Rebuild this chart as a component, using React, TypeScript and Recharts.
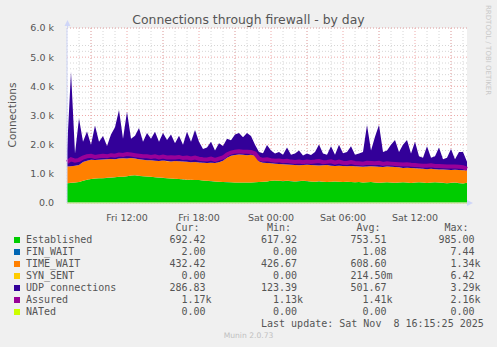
import { ComposedChart, Area, Line, XAxis, YAxis, CartesianGrid } from 'recharts'

// one sample every 20 minutes, starting Fri 07:00
const stepMinutes = 20

const established = [
    680, 690, 700, 720,
    760, 800, 820, 840, 850, 850,
    860, 870, 880, 900, 900,
    920, 940, 950, 930, 920, 910,
    900, 880, 870, 860, 850, 840, 830,
    820, 810, 800, 800, 790, 790,
    770, 760, 750, 740, 730, 720, 715, 710, 705, 700, 700, 700, 705, 710, 720, 730, 740,
    760, 770, 760, 750, 760, 750, 740, 750, 760, 750, 740, 730, 740, 730, 720, 730, 740, 730,
    720, 730, 720, 710, 720, 700, 710, 720, 700, 690, 700, 710, 700, 690, 700, 710, 700, 690,
    700, 710, 700, 690, 700, 710, 700, 690, 680, 690, 700, 680, 670, 692,
]
const finWait = [
    1, 2, 1, 0, 2, 1, 1, 3, 1, 0, 2, 1, 1, 2, 1,
    0, 1, 2, 1, 1, 0, 2, 1, 1, 3, 1, 0, 1, 2, 1, 1, 0, 2, 1,
    1, 1, 2, 0, 1, 1, 2, 1, 0, 1, 2, 1, 1, 0, 1, 2, 1,
    1, 0, 1, 2, 1, 1, 0, 1, 7, 1, 0, 1, 2, 1, 1, 0, 1, 1,
    2, 1, 0, 1, 1, 2, 1, 0, 1, 1, 2, 1, 0, 1, 2, 1, 1, 0,
    1, 2, 1, 0, 1, 1, 2, 1, 0, 1, 1, 2, 1, 2,
]
const timeWait = [
    570, 570, 580, 580,
    640, 650, 660, 630, 630, 640,
    640, 640, 620, 620, 630,
    610, 600, 570, 570, 560, 560,
    560, 570, 570, 590, 580, 580, 610,
    610, 610, 610, 600, 610, 600,
    610, 610, 630, 630, 670, 730, 835, 910, 945, 960, 950, 940, 945, 910, 700, 650, 630,
    600, 580, 580, 580, 560, 560, 560, 540, 540, 560, 560, 560, 540, 560, 580, 550, 530, 550,
    550, 530, 550, 550, 530, 540, 540, 540, 550, 550, 530, 540, 540, 540, 520, 490, 510, 510,
    490, 470, 470, 470, 470, 450, 450, 460, 460, 440, 440, 450, 450, 432,
]
const synSent = [
    0, 0, 0, 0, 0, 0, 0, 0, 0, 0, 0, 0, 0, 0, 0,
    0, 0, 0, 0, 0, 0, 0, 0, 0, 0, 6, 0, 0, 0, 0, 0, 0, 0, 0,
    0, 0, 0, 0, 0, 0, 0, 0, 0, 0, 0, 0, 0, 0, 0, 0, 0,
    0, 0, 0, 0, 0, 0, 0, 0, 0, 0, 0, 0, 0, 0, 0, 0, 0, 0,
    0, 0, 0, 0, 0, 0, 0, 0, 0, 0, 0, 0, 0, 0, 0, 0, 0, 0,
    0, 0, 0, 0, 0, 0, 0, 0, 0, 0, 0, 0, 0, 0,
]
const udp = [
    550, 3240, 420, 1600,
    700, 1000, 520, 1180, 620, 810,
    450, 840, 1100, 1670, 670,
    1600, 660, 780, 1070, 620, 930,
    740, 990, 660, 950, 720, 930, 610,
    870, 580, 1030, 700, 1100, 710,
    470, 530, 720, 430, 650, 500, 650, 530, 700, 740, 600, 760, 650, 380, 330, 320, 620,
    440, 350, 410, 320, 580, 340, 400, 510, 320, 390, 350, 460, 720, 410, 350, 670, 380, 720,
    430, 490, 680, 390, 450, 510, 1420, 540, 1020, 1430, 520, 550, 760, 930, 530, 800, 950, 500,
    910, 420, 380, 790, 380, 440, 750, 350, 410, 720, 360, 620, 630, 287,
]
const assured = [
    1400, 1500, 1450, 1480, 1560, 1600, 1620, 1580, 1600, 1620, 1600, 1640, 1620, 1660, 1650,
    1680, 1660, 1640, 1620, 1600, 1600, 1580, 1600, 1560, 1590, 1560, 1570, 1560, 1580, 1540, 1560, 1530, 1560, 1520,
    1500, 1490, 1520, 1480, 1520, 1560, 1660, 1730, 1760, 1770, 1760, 1760, 1750, 1700, 1520, 1480, 1500,
    1470, 1450, 1460, 1430, 1450, 1420, 1410, 1420, 1400, 1420, 1410, 1420, 1440, 1400, 1410, 1430, 1380, 1420,
    1380, 1370, 1400, 1370, 1360, 1350, 1380, 1370, 1360, 1380, 1340, 1360, 1350, 1340, 1330, 1320, 1330, 1310,
    1300, 1290, 1280, 1280, 1290, 1270, 1270, 1260, 1250, 1250, 1250, 1240, 1230, 1170,
]
const nated = [
    0, 0, 0, 0, 0, 0, 0, 0, 0, 0, 0, 0, 0, 0, 0,
    0, 0, 0, 0, 0, 0, 0, 0, 0, 0, 0, 0, 0, 0, 0, 0, 0, 0, 0,
    0, 0, 0, 0, 0, 0, 0, 0, 0, 0, 0, 0, 0, 0, 0, 0, 0,
    0, 0, 0, 0, 0, 0, 0, 0, 0, 0, 0, 0, 0, 0, 0, 0, 0, 0,
    0, 0, 0, 0, 0, 0, 0, 0, 0, 0, 0, 0, 0, 0, 0, 0, 0, 0,
    0, 0, 0, 0, 0, 0, 0, 0, 0, 0, 0, 0, 0, 0,
]

const xTicks = [300, 660, 1020, 1380, 1740]
const xTickLabels = ['Fri 12:00', 'Fri 18:00', 'Sat 00:00', 'Sat 06:00', 'Sat 12:00']
const yTicks = [0, 1000, 2000, 3000, 4000, 5000, 6000]
const yTickLabels = ['0.0', '1.0 k', '2.0 k', '3.0 k', '4.0 k', '5.0 k', '6.0 k']

const legendNames = ['Established', 'FIN_WAIT', 'TIME_WAIT', 'SYN_SENT', 'UDP connections', 'Assured', 'NATed']
const legendColors = ['#00CC00', '#0066B3', '#FF8000', '#FFCC00', '#330099', '#990099', '#CCFF00']
const curValues = ['692.42', '2.00', '432.42', '0.00', '286.83', '1.17k', '0.00']
const minValues = ['617.92', '0.00', '426.67', '0.00', '123.39', '1.13k', '0.00']
const avgValues = ['753.51', '1.08', '608.60', '214.50m', '501.67', '1.41k', '0.00']
const maxValues = ['985.00', '7.44', '1.34k', '6.42', '3.29k', '2.16k', '0.00']

const data = established.map((v, i) => ({
    t: i * stepMinutes,
    established: v,
    finWait: finWait[i],
    timeWait: timeWait[i],
    synSent: synSent[i],
    udp: udp[i],
    assured: assured[i],
    nated: nated[i],
}))

// grid: minor every hour / 200, major every 3 hours / 1000
const minorX: number[] = []
for (let m = 0; m <= 2000; m += 60) minorX.push(m)
const majorX: number[] = []
for (let m = 120; m <= 2000; m += 180) majorX.push(m)
const minorY: number[] = []
for (let v = 0; v <= 6000; v += 200) minorY.push(v)

const fmt = (s: string) => (/[km]$/.test(s) ? s.padStart(7) : s.padStart(6) + ' ')

const mono = '"DejaVu Sans Mono", monospace'
const sans = '"DejaVu Sans", sans-serif'
const colX = [169.5, 261, 350.5, 438.5]
const colHeads = ['Cur:', 'Min:', 'Avg:', 'Max:']
const cols = [curValues, minValues, avgValues, maxValues]

export default function App() {
    return (
        <div style={{ position: 'absolute', left: 0, top: 0, width: 497, height: 347, background: '#F0F0F0', overflow: 'hidden', fontFamily: sans }}>
            <div style={{ position: 'absolute', top: 12, left: 0, width: 497, textAlign: 'center', fontSize: 12.4, color: '#555', lineHeight: '16px' }}>
                Connections through firewall - by day
            </div>
            <div style={{ position: 'absolute', left: 12, top: 115, width: 0, height: 0 }}>
                <div style={{ position: 'absolute', transform: 'translate(-50%, -50%) rotate(-90deg)', fontSize: 10.5, color: '#555', whiteSpace: 'nowrap' }}>
                    Connections
                </div>
            </div>
            <div style={{ position: 'absolute', left: 484, top: 5, writingMode: 'vertical-rl', fontSize: 7, color: '#c8c8c8', whiteSpace: 'nowrap' }}>
                RRDTOOL / TOBI OETIKER
            </div>

            <ComposedChart width={497} height={347} data={data} margin={{ top: 28, right: 30, bottom: 124, left: 0 }} style={{ position: 'absolute', left: 0, top: 0 }}>
                <CartesianGrid fill="#FFFFFF" stroke="#d6d6d6" strokeDasharray="1 2" horizontalValues={minorY} verticalValues={minorX} />
                <CartesianGrid fill="none" stroke="#eeaaaa" strokeDasharray="1 2" horizontalValues={yTicks} verticalValues={majorX} />
                <XAxis
                    dataKey="t"
                    type="number"
                    domain={[0, 2000]}
                    ticks={xTicks}
                    tickFormatter={(v: number) => xTickLabels[xTicks.indexOf(v)] ?? ''}
                    tickLine={false}
                    tickMargin={5}
                    height={20}
                    axisLine={{ stroke: '#CFD6F8' }}
                    tick={{ fill: '#555', fontSize: 9.5, fontFamily: sans }}
                />
                <YAxis
                    type="number"
                    domain={[0, 6000]}
                    ticks={yTicks}
                    tickFormatter={(v: number) => yTickLabels[yTicks.indexOf(v)] ?? ''}
                    tickLine={false}
                    tickMargin={7}
                    width={67}
                    axisLine={{ stroke: '#CFD6F8' }}
                    tick={{ fill: '#555', fontSize: 9.5, fontFamily: sans }}
                />
                <Area type="linear" dataKey="established" stackId="a" fill="#00CC00" stroke="none" fillOpacity={1} isAnimationActive={false} />
                <Area type="linear" dataKey="finWait" stackId="a" fill="#0066B3" stroke="none" fillOpacity={1} isAnimationActive={false} />
                <Area type="linear" dataKey="timeWait" stackId="a" fill="#FF8000" stroke="none" fillOpacity={1} isAnimationActive={false} />
                <Area type="linear" dataKey="synSent" stackId="a" fill="#FFCC00" stroke="none" fillOpacity={1} isAnimationActive={false} />
                <Area type="linear" dataKey="udp" stackId="a" fill="#330099" stroke="none" fillOpacity={1} isAnimationActive={false} />
                <Line type="linear" dataKey="assured" stroke="#990099" strokeWidth={4} dot={false} isAnimationActive={false} />
                <Line type="linear" dataKey="nated" stroke="#CCFF00" strokeWidth={1} dot={false} isAnimationActive={false} />
            </ComposedChart>

            <svg width={497} height={347} style={{ position: 'absolute', left: 0, top: 0, pointerEvents: 'none' }}>
                <line x1={67.5} y1={22} x2={67.5} y2={28} stroke="#CFD6F8" />
                <polygon points="64.5,26 70.5,26 67.5,20" fill="#CFD6F8" />
                <polygon points="467,200 467,206 473,203" fill="#CFD6F8" />
            </svg>

            {colHeads.map((h, c) => (
                <div key={h} style={{ position: 'absolute', left: colX[c], top: 222, fontFamily: mono, fontSize: 10, lineHeight: '12px', color: '#555', whiteSpace: 'pre' }}>
                    {' ' + h}
                </div>
            ))}
            {legendNames.map((name, r) => (
                <div key={name}>
                    <div style={{ position: 'absolute', left: 14, top: 237 + r * 12, width: 6, height: 6, background: legendColors[r] }} />
                    <div style={{ position: 'absolute', left: 26, top: 234 + r * 12, fontFamily: mono, fontSize: 10, lineHeight: '12px', color: '#555', whiteSpace: 'pre' }}>
                        {name}
                    </div>
                    {cols.map((vals, c) => (
                        <div key={c} style={{ position: 'absolute', left: colX[c], top: 234 + r * 12, fontFamily: mono, fontSize: 10, lineHeight: '12px', color: '#555', whiteSpace: 'pre' }}>
                            {fmt(vals[r])}
                        </div>
                    ))}
                </div>
            ))}
            <div style={{ position: 'absolute', left: 261, top: 318, fontFamily: mono, fontSize: 10, lineHeight: '12px', color: '#555', whiteSpace: 'pre' }}>
                {'Last update: Sat Nov  8 16:15:25 2025'}
            </div>
            <div style={{ position: 'absolute', left: 0, top: 331, width: 497, textAlign: 'center', fontSize: 7.6, color: '#c0c0c0' }}>
                Munin 2.0.73
            </div>
        </div>
    )
}
